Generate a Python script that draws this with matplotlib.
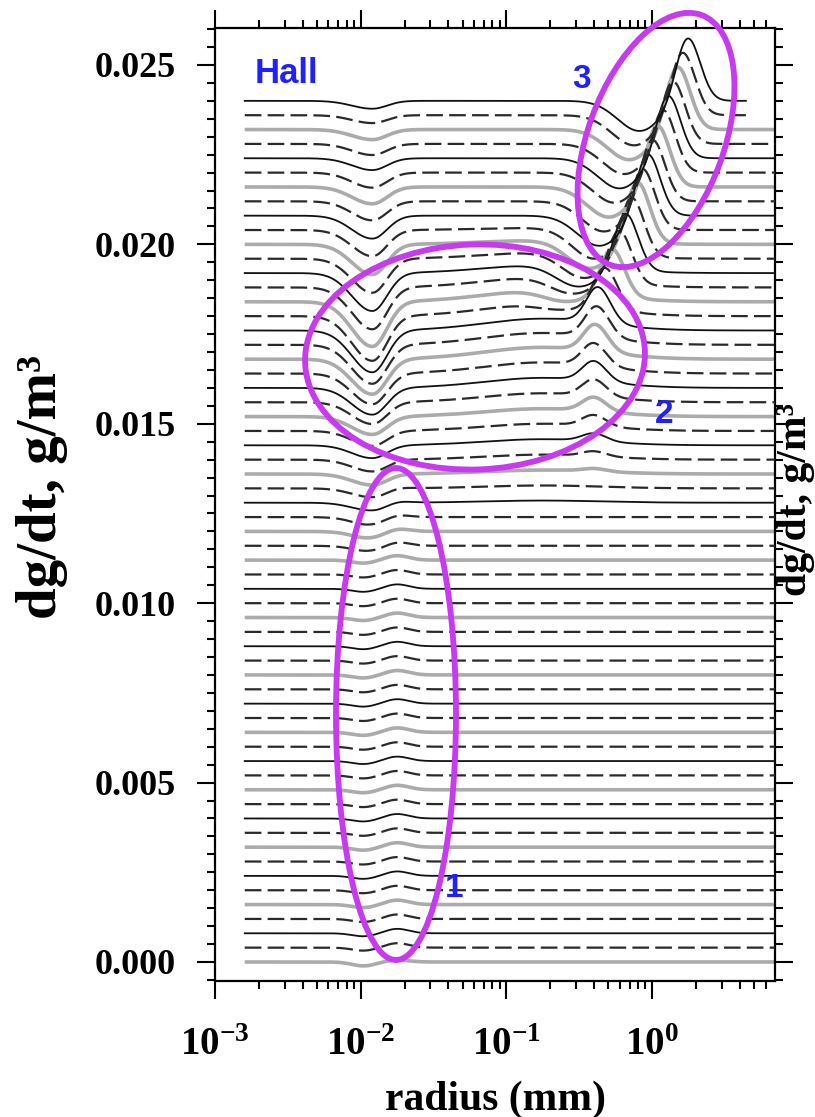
import numpy as np
import matplotlib
matplotlib.use("Agg")
import matplotlib.pyplot as plt
from matplotlib.patches import Ellipse
from matplotlib import ticker

plt.rcParams['font.family'] = ['Liberation Serif', 'DejaVu Serif']
plt.rcParams['font.weight'] = 'bold'
plt.rcParams['mathtext.fontset'] = 'custom'
plt.rcParams['mathtext.rm'] = 'Liberation Serif:bold'
plt.rcParams['mathtext.it'] = 'Liberation Serif:bold'
plt.rcParams['mathtext.bf'] = 'Liberation Serif:bold'
plt.rcParams['mathtext.default'] = 'rm'

# ---------------- data ----------------
n_curves = 61
offset_step = 0.0004                      # vertical stacking step, g/m^3
r_start = 1.6e-3                          # mm
r_end = [7.0] * 59 + [4.4, 4.4]           # mm

# amplitudes in units of 1e-4 g/m^3
small_dip = [1.1] + [0.85] * 28 + [0.5, 0.5, 0.5] + [0.0] * 29
bump_018 = [0.55] + [1.25] * 28 + [1.1, 0.85, 0.7, 0.5, 0.3] + [0.0] * 27
v_dip = ([0.0] * 29 +
         [1.0, 1.4, 1.7, 2.2, 2.5, 3.1, 3.3, 3.6, 4.2, 5.0, 6.1, 7.5, 8.6, 9.8,
          10.9, 11.7, 12.5, 12.5, 11.7, 10.6, 9.5, 8.4, 7.3, 6.4, 5.3, 4.7, 4.2,
          3.3, 3.1, 2.8, 2.2, 2.2])
shoulder = ([0.0] * 32 +
            [0.6, 0.8, 1.1, 1.4, 1.7, 2.0, 2.2, 2.5, 2.8, 3.1, 3.3, 3.3, 3.3, 3.3,
             3.1, 2.8, 2.2, 1.7, 1.1, 0.6] + [0.0] * 9)
peak_h = ([0.0] * 34 +
          [0.8, 1.4, 2.2, 3.1, 3.9, 4.7, 5.6, 6.4, 7.5, 8.6, 10.0, 11.7, 13.4,
           15.0, 16.2, 17.0, 17.6, 17.6, 17.8, 17.8, 17.8, 18.1, 18.1, 18.1, 18.1,
           18.1, 18.1])
peak_r = ([0.398] * 42 +
          [0.407, 0.417, 0.425, 0.474, 0.530, 0.593, 0.656, 0.721, 0.789, 0.853,
           0.929, 1.00, 1.08, 1.18, 1.28, 1.38, 1.49, 1.61, 1.75])   # mm
neg_lobe = ([0.0] * 45 +
            [1.4, 2.8, 4.2, 5.6, 6.7, 7.5, 8.4, 8.4, 8.4, 8.4, 8.4, 8.4, 8.4, 8.4,
             8.4, 8.4])

y_ticks = [0.000, 0.005, 0.010, 0.015, 0.020, 0.025]

# ---------------- figure ----------------
W, H = 815, 1117
fig = plt.figure(figsize=(W / 100, H / 100), dpi=100)
ax = fig.add_axes([215 / W, 1 - 981 / H, (775 - 215) / W, (981 - 28) / H])


def g(x, c, s):
    return np.exp(-0.5 * ((x - c) / s) ** 2)


def ag(x, c, sl, sr):
    s = np.where(x < c, sl, sr)
    return np.exp(-0.5 * ((x - c) / s) ** 2)


for i in range(n_curves):
    lx = np.linspace(np.log10(r_start), np.log10(r_end[i]), 900)
    lp = np.log10(peak_r[i])
    dev = (-small_dip[i] * g(lx, -1.98, 0.08)
           + bump_018[i] * g(lx, -1.75, 0.08)
           - v_dip[i] * ag(lx, -1.92, 0.14, 0.10)
           + shoulder[i] * g(lx, -0.75, 0.40)
           + peak_h[i] * ag(lx, lp, 0.08, 0.085)
           - neg_lobe[i] * g(lx, lp - 0.33, 0.15))
    y = i * offset_step + 1e-4 * dev
    x = 10 ** lx
    if i % 2 == 0:
        gray = (i < 30 and i % 4 == 0) or (i >= 30 and i % 4 == 2)
        if gray:
            ax.plot(x, y, color='#ababab', lw=2.6, solid_capstyle='butt', zorder=2)
        else:
            ax.plot(x, y, color='#111111', lw=1.3, zorder=3)
    else:
        ax.plot(x, y, color='#2a2a2a', lw=1.6, ls=(0, (7.5, 2.8)), zorder=3)

ax.set_xscale('log')
ax.set_xlim(1e-3, 6.97)
ax.set_ylim(-0.00053, 0.02603)
ax.xaxis.set_major_locator(ticker.LogLocator(base=10, numticks=10))
ax.xaxis.set_minor_locator(ticker.LogLocator(base=10, subs=np.arange(2, 10), numticks=40))
ax.xaxis.set_major_formatter(ticker.LogFormatterMathtext())
ax.xaxis.set_minor_formatter(ticker.NullFormatter())
ax.set_yticks(y_ticks)
ax.yaxis.set_minor_locator(ticker.MultipleLocator(0.0005))
ax.yaxis.set_major_formatter(ticker.FormatStrFormatter('%.3f'))
ax.tick_params(which='both', direction='out', top=True, right=True, width=1.5)
ax.tick_params(which='major', length=13)
ax.tick_params(which='minor', length=5.5)
ax.tick_params(axis='y', pad=15, labelsize=26)
ax.tick_params(axis='x', pad=20, labelsize=28)
for sp in ax.spines.values():
    sp.set_linewidth(1.6)

# axis labels
fig.text(495 / W, 1 - 1100 / H, 'radius (mm)', ha='center', va='center',
         fontsize=30, fontweight='bold')
fig.text(42 / W, 1 - 487 / H, 'dg/dt, g/m³', ha='center', va='center',
         rotation=90, fontsize=41, fontweight='bold')
fig.text(777 / W, 1 - 500 / H, 'dg/dt, g/m³', ha='left', va='center',
         rotation=90, fontsize=30, fontweight='bold')

# annotations
blue = '#1f1fff'
sans = ['Liberation Sans', 'DejaVu Sans']
fig.text(255 / W, 1 - 83 / H, 'Hall', color=blue, fontsize=25, fontweight='bold',
         family=sans, va='baseline', ha='left')
fig.text(572 / W, 1 - 88 / H, '3', color=blue, fontsize=24, fontweight='bold',
         family=sans, va='baseline', ha='left')
fig.text(655 / W, 1 - 423 / H, '2', color=blue, fontsize=24, fontweight='bold',
         family=sans, va='baseline', ha='left')
fig.text(445 / W, 1 - 897 / H, '1', color=blue, fontsize=24, fontweight='bold',
         family=sans, va='baseline', ha='left')

purple = '#c83af0'
tr = fig.dpi_scale_trans
for (cx, cy, w, h, ang) in [(396, 714, 120, 492, 0),
                            (475, 357, 340, 225, 2),
                            (656, 140, 266, 136, 70)]:
    e = Ellipse((cx / 100, (H - cy) / 100), w / 100, h / 100, angle=ang,
                transform=tr, fill=False, edgecolor=purple, lw=4.2, zorder=10)
    fig.add_artist(e)

fig.savefig('out.png', dpi=100)
